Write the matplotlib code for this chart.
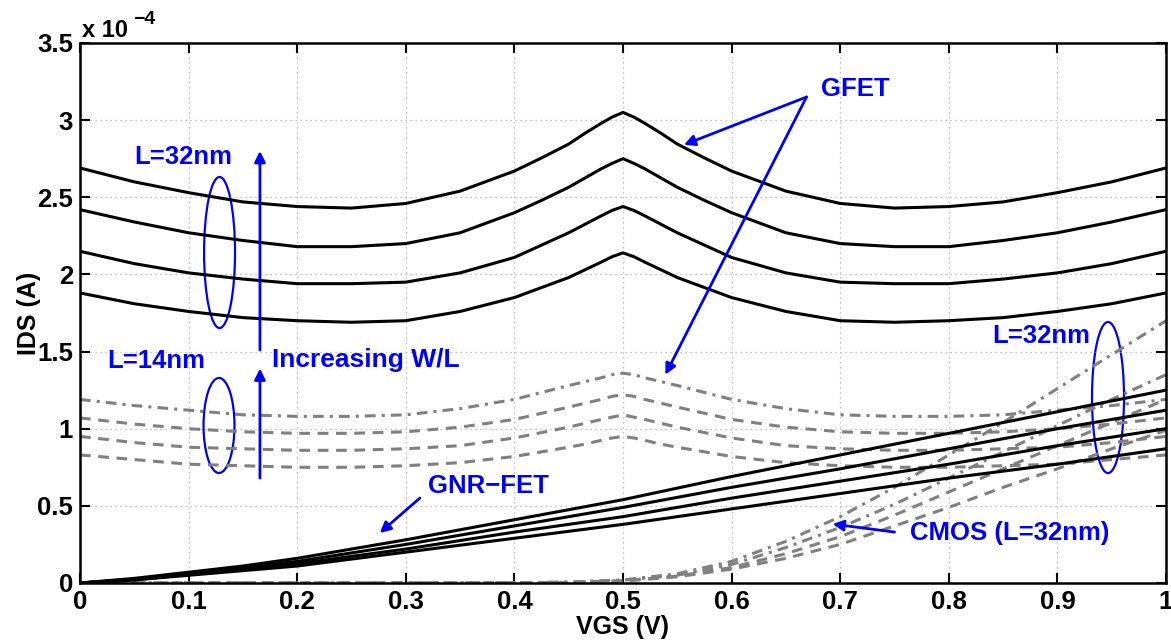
import matplotlib
matplotlib.use('Agg')
import matplotlib.pyplot as plt
from matplotlib.patches import Ellipse

plt.rcParams['font.family'] = ['Liberation Sans', 'DejaVu Sans']

# all currents in units of 1e-4 A
vgs = [0, .05, .1, .15, .2, .25, .3, .35, .4, .425, .45, .465, .48, .49, .5,
       .51, .52, .535, .55, .575, .6, .65, .7, .75, .8, .85, .9, .95, 1.0]

gfet_32 = [
    [2.69, 2.60, 2.53, 2.47, 2.44, 2.43, 2.46, 2.54, 2.67, 2.755, 2.845, 2.915, 2.98, 3.02, 3.05,
     3.02, 2.98, 2.915, 2.845, 2.755, 2.67, 2.54, 2.46, 2.43, 2.44, 2.47, 2.53, 2.60, 2.69],
    [2.42, 2.34, 2.27, 2.22, 2.18, 2.18, 2.20, 2.27, 2.40, 2.48, 2.565, 2.625, 2.685, 2.72, 2.75,
     2.72, 2.685, 2.625, 2.565, 2.48, 2.40, 2.27, 2.20, 2.18, 2.18, 2.22, 2.27, 2.34, 2.42],
    [2.15, 2.07, 2.01, 1.97, 1.94, 1.94, 1.95, 2.01, 2.11, 2.19, 2.27, 2.325, 2.38, 2.415, 2.44,
     2.415, 2.38, 2.325, 2.27, 2.19, 2.11, 2.01, 1.95, 1.94, 1.94, 1.97, 2.01, 2.07, 2.15],
    [1.88, 1.81, 1.76, 1.72, 1.70, 1.69, 1.70, 1.76, 1.85, 1.915, 1.98, 2.03, 2.08, 2.115, 2.14,
     2.115, 2.08, 2.03, 1.98, 1.915, 1.85, 1.76, 1.70, 1.69, 1.70, 1.72, 1.76, 1.81, 1.88],
]

gfet_14 = [
    [1.19, 1.15, 1.12, 1.09, 1.08, 1.08, 1.09, 1.13, 1.19, 1.235, 1.28, 1.305, 1.33, 1.35, 1.36,
     1.35, 1.33, 1.305, 1.28, 1.235, 1.19, 1.13, 1.09, 1.08, 1.08, 1.09, 1.12, 1.15, 1.19],
    [1.07, 1.03, 1.00, 0.98, 0.97, 0.97, 0.98, 1.01, 1.06, 1.10, 1.14, 1.165, 1.19, 1.21, 1.22,
     1.21, 1.19, 1.165, 1.14, 1.10, 1.06, 1.01, 0.98, 0.97, 0.97, 0.98, 1.00, 1.03, 1.07],
    [0.95, 0.91, 0.88, 0.87, 0.86, 0.86, 0.87, 0.89, 0.94, 0.975, 1.01, 1.035, 1.06, 1.075, 1.09,
     1.075, 1.06, 1.035, 1.01, 0.975, 0.94, 0.89, 0.87, 0.86, 0.86, 0.87, 0.88, 0.91, 0.95],
    [0.83, 0.80, 0.77, 0.76, 0.75, 0.75, 0.76, 0.78, 0.82, 0.85, 0.88, 0.90, 0.925, 0.94, 0.95,
     0.94, 0.925, 0.90, 0.88, 0.85, 0.82, 0.78, 0.76, 0.75, 0.75, 0.76, 0.77, 0.80, 0.83],
]

vgs_gnr = [0, .05, .1, .15, .2, .3, .4, .5, .6, .7, .8, .9, 1.0]
gnr = [
    [0, 0.03, 0.07, 0.11, 0.16, 0.28, 0.41, 0.54, 0.69, 0.83, 0.97, 1.11, 1.25],
    [0, 0.025, 0.06, 0.10, 0.14, 0.25, 0.37, 0.49, 0.62, 0.74, 0.87, 1.00, 1.12],
    [0, 0.02, 0.055, 0.09, 0.125, 0.22, 0.33, 0.43, 0.55, 0.66, 0.77, 0.89, 1.00],
    [0, 0.02, 0.05, 0.08, 0.11, 0.20, 0.29, 0.38, 0.48, 0.58, 0.68, 0.77, 0.87],
]

vgs_cmos = [0, .1, .2, .3, .4, .45, .5, .55, .6, .65, .7, .75, .8, .85, .9, .95, 1.0]
cmos = [
    [0, 0, 0, 0, 0.002, 0.006, 0.02, 0.06, 0.14, 0.27, 0.43, 0.62, 0.83, 1.04, 1.26, 1.48, 1.70],
    [0, 0, 0, 0, 0.002, 0.005, 0.018, 0.05, 0.12, 0.23, 0.36, 0.51, 0.68, 0.85, 1.02, 1.19, 1.35],
    [0, 0, 0, 0, 0.001, 0.004, 0.015, 0.045, 0.10, 0.19, 0.30, 0.44, 0.59, 0.74, 0.89, 1.04, 1.19],
    [0, 0, 0, 0, 0.001, 0.003, 0.012, 0.04, 0.09, 0.16, 0.25, 0.37, 0.49, 0.62, 0.74, 0.87, 0.99],
]

xticks = [0, 0.1, 0.2, 0.3, 0.4, 0.5, 0.6, 0.7, 0.8, 0.9, 1]
xticklabels = ['0', '0.1', '0.2', '0.3', '0.4', '0.5', '0.6', '0.7', '0.8', '0.9', '1']
yticks = [0, 0.5, 1, 1.5, 2, 2.5, 3, 3.5]
yticklabels = ['0', '0.5', '1', '1.5', '2', '2.5', '3', '3.5']

gray = '#808080'
blue = '#0000ff'
dash = (0, (3.5, 2.5))
dashdot = (0, (3.5, 2, 1, 2))

fig = plt.figure(figsize=(11.71, 6.44), dpi=100)
ax = fig.add_axes([80 / 1171, 61 / 644, 1086 / 1171, 540 / 644])

for i, c in enumerate(gfet_14):
    ax.plot(vgs, c, color=gray, lw=2.2, ls=dashdot if i == 0 else dash)
for i, c in enumerate(cmos):
    ax.plot(vgs_cmos, c, color=gray, lw=2.2, ls=dashdot if i < 2 else dash)
for c in gfet_32:
    ax.plot(vgs, c, color='black', lw=2.2)
for c in gnr:
    ax.plot(vgs_gnr, c, color='black', lw=2.2)

ax.set_xlim(0, 1)
ax.set_ylim(0, 3.5)
ax.set_xticks(xticks)
ax.set_xticklabels(xticklabels)
ax.set_yticks(yticks)
ax.set_yticklabels(yticklabels)
ax.grid(True, ls=(0, (1, 3)), color='#b0b0b0', lw=0.9)
ax.tick_params(direction='in', length=7, width=1.5, top=True, right=True,
               labelsize=18.5, pad=5)
for lab in ax.get_xticklabels() + ax.get_yticklabels():
    lab.set_fontweight('bold')
for s in ax.spines.values():
    s.set_linewidth(1.8)

ax.set_xlabel('VGS (V)', fontsize=18, fontweight='bold', labelpad=1)
ax.set_ylabel('IDS (A)', fontsize=18, fontweight='bold', labelpad=-3)

ax.text(0.002, 3.54, 'x 10', fontsize=17, fontweight='bold', va='baseline')
ax.text(0.049, 3.62, '\u22124', fontsize=14, fontweight='bold', va='baseline')

tk = dict(color=blue, fontsize=18.5, fontweight='bold', ha='center', va='center')
arr = dict(arrowstyle='-|>', color=blue, lw=2, mutation_scale=16, shrinkA=0, shrinkB=0)

# GFET
ax.text(0.714, 3.20, 'GFET', **tk)
ax.annotate('', xy=(0.556, 2.84), xytext=(0.669, 3.15), arrowprops=arr)
ax.annotate('', xy=(0.539, 1.35), xytext=(0.669, 3.15), arrowprops=arr)

# left group
ax.text(0.095, 2.76, 'L=32nm', **tk)
ax.add_patch(Ellipse((0.1285, 2.142), 0.0285, 0.979, fill=False, ec=blue, lw=1.6))
ax.annotate('', xy=(0.1657, 2.80), xytext=(0.1657, 1.51), arrowprops=arr)
ax.text(0.177, 1.445, 'Increasing W/L', color=blue, fontsize=19, fontweight='bold',
        ha='left', va='center')
ax.text(0.07, 1.44, 'L=14nm', **tk)
ax.add_patch(Ellipse((0.128, 1.021), 0.0285, 0.616, fill=False, ec=blue, lw=1.6))
ax.annotate('', xy=(0.1657, 1.39), xytext=(0.1657, 0.68), arrowprops=arr)

# GNR-FET
ax.text(0.376, 0.629, 'GNR\u2212FET', **tk)
ax.annotate('', xy=(0.276, 0.324), xytext=(0.313, 0.551), arrowprops=arr)

# CMOS
ax.text(0.856, 0.321, 'CMOS (L=32nm)', **tk)
ax.annotate('', xy=(0.693, 0.382), xytext=(0.750, 0.33), arrowprops=arr)
ax.text(0.885, 1.60, 'L=32nm', **tk)
ax.add_patch(Ellipse((0.9466, 1.202), 0.0295, 0.979, fill=False, ec=blue, lw=1.6))

fig.savefig('out.png', dpi=100)
